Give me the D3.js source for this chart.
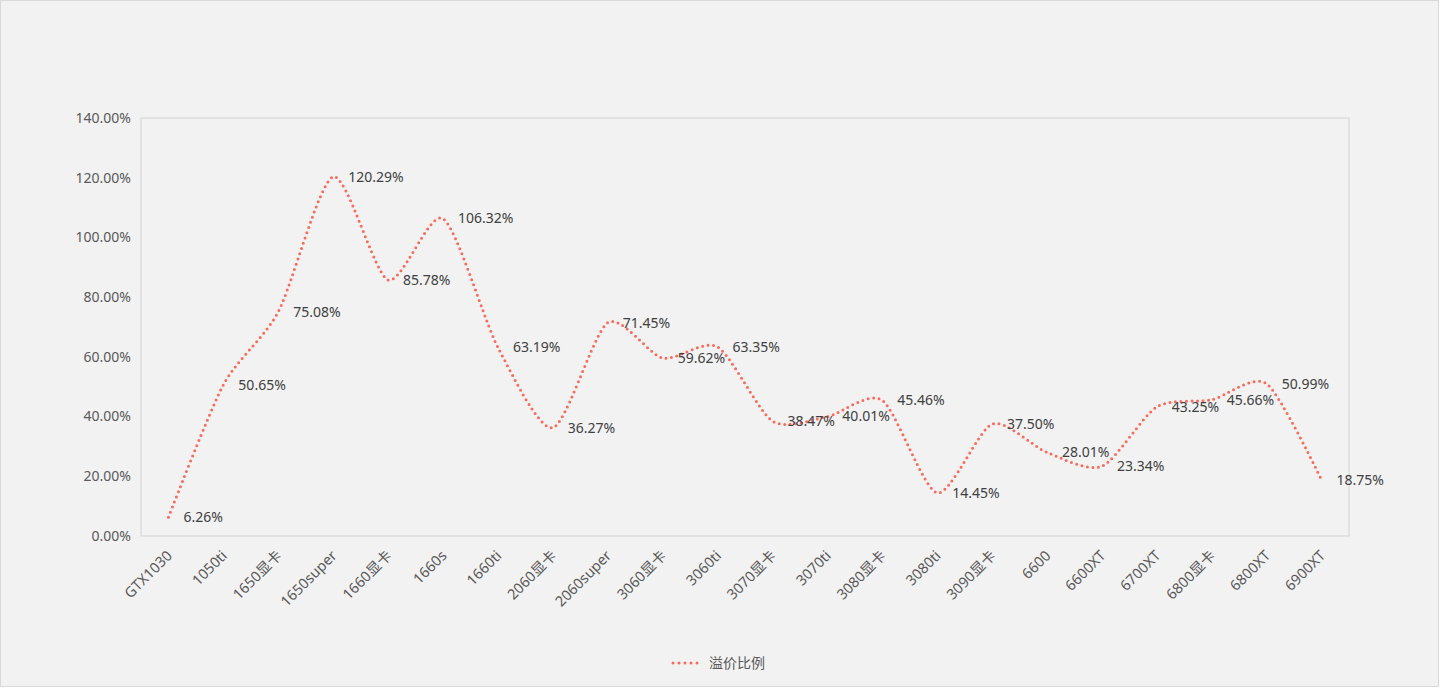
<!DOCTYPE html>
<html><head><meta charset="utf-8">
<script src="https://cdn.jsdelivr.net/npm/d3@7"></script>
<style>
html,body{margin:0;padding:0;background:#fff;}
svg{display:block;}
text{font-family:"Segoe UI","Noto Sans","Noto Sans CJK SC",sans-serif;}
</style></head>
<body>
<svg id="c" width="1440" height="698"></svg>
<script>
const categories = ["GTX1030","1050ti","1650显卡","1650super","1660显卡","1660s","1660ti","2060显卡","2060super","3060显卡","3060ti","3070显卡","3070ti","3080显卡","3080ti","3090显卡","6600","6600XT","6700XT","6800显卡","6800XT","6900XT"];
const premium = [6.26,50.65,75.08,120.29,85.78,106.32,63.19,36.27,71.45,59.62,63.35,38.47,40.01,45.46,14.45,37.50,28.01,23.34,43.25,45.66,50.99,18.75];
const yTicks = [0,20,40,60,80,100,120,140];
const seriesName = "溢价比例";

const svg = d3.select("#c");
const W = 1440, H = 698;
const color = "#F96B5C";
svg.append("rect").attr("x",0.5).attr("y",0.5).attr("width",W-2).attr("height",H-12)
  .attr("fill","#F2F2F2").attr("stroke","#D9D9D9").attr("stroke-width",1);

const m = {l:141, r:1349, t:118, b:536};
const x = d3.scaleBand().domain(categories).range([m.l, m.r]);
const y = d3.scaleLinear().domain([0,140]).range([m.b, m.t]);

// plot area border
svg.append("rect").attr("x",m.l).attr("y",m.t).attr("width",m.r-m.l).attr("height",m.b-m.t)
  .attr("fill","none").attr("stroke","#D9D9D9").attr("stroke-width",1.3);

// y axis labels
svg.append("g").selectAll("text").data(yTicks).join("text")
  .attr("x",131).attr("y",d=>y(d)).attr("dy","0.35em").attr("text-anchor","end")
  .attr("font-size",14).attr("fill","#595959").text(d=>d.toFixed(2)+"%");

// x labels
svg.append("g").selectAll("text").data(categories).join("text")
  .attr("transform",d=>`translate(${x(d)+x.bandwidth()/2+1},${553}) rotate(-45)`)
  .attr("text-anchor","end").attr("dy","0.35em")
  .attr("font-size",14.5).attr("fill","#595959").text(d=>d);

const cx = (d,i)=>x(categories[i])+x.bandwidth()/2;
const line = d3.line().x((d,i)=>cx(d,i)).y(d=>y(d)).curve(d3.curveCardinal.tension(0.25));
svg.append("path").datum(premium).attr("d",line).attr("fill","none")
  .attr("stroke",color).attr("stroke-width",3).attr("stroke-linecap","round")
  .attr("stroke-dasharray","0,5.5");

// data labels
svg.append("g").selectAll("text").data(premium).join("text")
  .attr("x",(d,i)=>cx(d,i)+15).attr("y",d=>y(d)).attr("dy","0.35em")
  .attr("font-size",14).attr("fill","#404040").text(d=>d.toFixed(2)+"%");

// legend
const lg = svg.append("g");
lg.append("line").attr("x1",673).attr("x2",703).attr("y1",663).attr("y2",663)
  .attr("stroke",color).attr("stroke-width",3).attr("stroke-linecap","round").attr("stroke-dasharray","0,6");
lg.append("text").attr("x",709).attr("y",663).attr("dy","0.35em").attr("font-size",14)
  .attr("fill","#595959").text(seriesName);
</script>
</body></html>
